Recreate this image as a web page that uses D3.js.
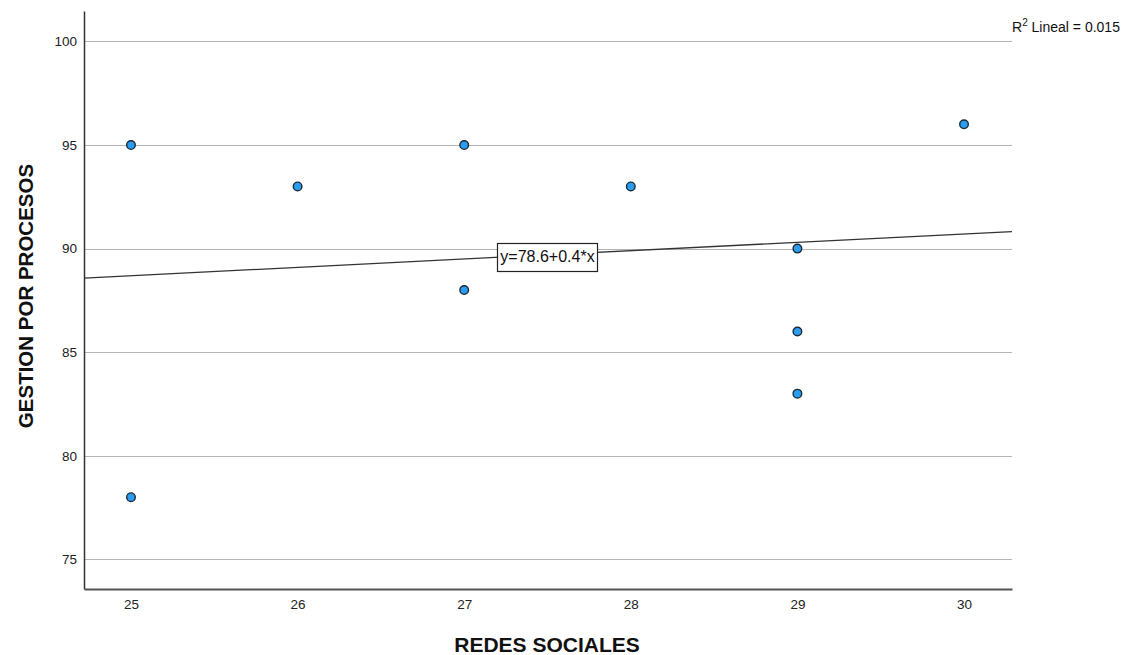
<!DOCTYPE html>
<html>
<head>
<meta charset="utf-8">
<script src="https://cdn.jsdelivr.net/npm/d3@7"></script>
<style>
  body { margin: 0; background: #fff; }
  svg { display: block; font-family: "Liberation Sans", Arial, sans-serif; }
</style>
</head>
<body>
<svg id="chart" width="1134" height="655"></svg>
<script>
// Observations: REDES SOCIALES (x) vs GESTION POR PROCESOS (y)
const redesSociales = [25, 25, 26, 27, 27, 28, 29, 29, 29, 30];
const gestionProcesos = [95, 78, 93, 95, 88, 93, 90, 86, 83, 96];
const xTicks = [25, 26, 27, 28, 29, 30];
const yTicks = [75, 80, 85, 90, 95, 100];

const svg = d3.select("#chart");
const plotLeft = 84, plotRight = 1012, plotTop = 11, plotBottom = 589;

const x = d3.scaleLinear().domain([24.718, 30.288]).range([plotLeft, plotRight]);
const y = d3.scaleLinear().domain([73.57, 101.47]).range([plotBottom, plotTop]);

// Least-squares fit
const n = redesSociales.length;
const mx = d3.mean(redesSociales), my = d3.mean(gestionProcesos);
let sxy = 0, sxx = 0, syy = 0;
for (let i = 0; i < n; i++) {
  const dx = redesSociales[i] - mx, dy = gestionProcesos[i] - my;
  sxy += dx * dy; sxx += dx * dx; syy += dy * dy;
}
const slope = sxy / sxx;
const intercept = my - slope * mx;
const r2 = (sxy * sxy) / (sxx * syy);

// Horizontal gridlines
svg.append("g")
  .selectAll("line")
  .data(yTicks)
  .join("line")
  .attr("x1", plotLeft).attr("x2", plotRight)
  .attr("y1", d => Math.round(y(d)) + 0.5).attr("y2", d => Math.round(y(d)) + 0.5)
  .attr("stroke", "#b4b4b4").attr("stroke-width", 1.2);

// Y axis
const yAxis = svg.append("g")
  .attr("transform", `translate(${plotLeft},0)`)
  .call(d3.axisLeft(y).tickValues(yTicks).tickSize(0).tickPadding(7));
yAxis.select(".domain").attr("stroke", "#333").attr("stroke-width", 1.5);
yAxis.selectAll("text").attr("font-size", 13.5).attr("fill", "#222")
  .attr("font-family", "'Liberation Sans', Arial, sans-serif");

// X axis
const xAxis = svg.append("g")
  .attr("transform", `translate(0,${plotBottom})`)
  .call(d3.axisBottom(x).tickValues(xTicks).tickSize(0).tickPadding(10).tickFormat(d3.format("d")));
xAxis.select(".domain").attr("stroke", "#555").attr("stroke-width", 2);
xAxis.selectAll("text").attr("font-size", 13.5).attr("fill", "#222")
  .attr("font-family", "'Liberation Sans', Arial, sans-serif");

// Regression line
const x0 = x.domain()[0], x1 = x.domain()[1];
svg.append("line")
  .attr("x1", x(x0)).attr("y1", y(intercept + slope * x0))
  .attr("x2", x(x1)).attr("y2", y(intercept + slope * x1))
  .attr("stroke", "#333").attr("stroke-width", 1.3);

// Points
svg.append("g")
  .selectAll("circle")
  .data(redesSociales.map((v, i) => [v, gestionProcesos[i]]))
  .join("circle")
  .attr("cx", d => x(d[0])).attr("cy", d => y(d[1]))
  .attr("r", 4.3)
  .attr("fill", "#2a9df0")
  .attr("stroke", "#1c2a36").attr("stroke-width", 1.4);

// Equation label on the fit line
const eqText = `y=${intercept.toFixed(1)}+${slope.toFixed(1)}*x`;
const lblX = x(mx), lblY = y(my) + 2;
const eqG = svg.append("g");
const eq = eqG.append("text")
  .attr("x", lblX).attr("y", lblY)
  .attr("text-anchor", "middle").attr("dominant-baseline", "central")
  .attr("font-size", 16).attr("fill", "#111")
  .text(eqText);
const bb = eq.node().getBBox();
eqG.insert("rect", "text")
  .attr("x", Math.round(bb.x - 3) + 0.5).attr("y", Math.round(lblY - 14) + 0.5)
  .attr("width", Math.round(bb.width + 6)).attr("height", 28)
  .attr("fill", "#fff").attr("stroke", "#222").attr("stroke-width", 1.2);

// R² annotation
const r2Text = svg.append("text")
  .attr("x", 1012).attr("y", 32)
  .attr("font-size", 14).attr("fill", "#111");
r2Text.append("tspan").text("R");
r2Text.append("tspan").attr("dy", -6).attr("font-size", 10).text("2");
r2Text.append("tspan").attr("dy", 6).text(` Lineal = ${r2.toFixed(3)}`);

// Axis titles
svg.append("text")
  .attr("x", 547).attr("y", 652)
  .attr("text-anchor", "middle")
  .attr("font-size", 21).attr("font-weight", "bold").attr("fill", "#111")
  .text("REDES SOCIALES");

svg.append("text")
  .attr("transform", "translate(33,296) rotate(-90)")
  .attr("text-anchor", "middle")
  .attr("font-size", 20.5).attr("font-weight", "bold").attr("fill", "#111")
  .text("GESTION POR PROCESOS");
</script>
</body>
</html>
